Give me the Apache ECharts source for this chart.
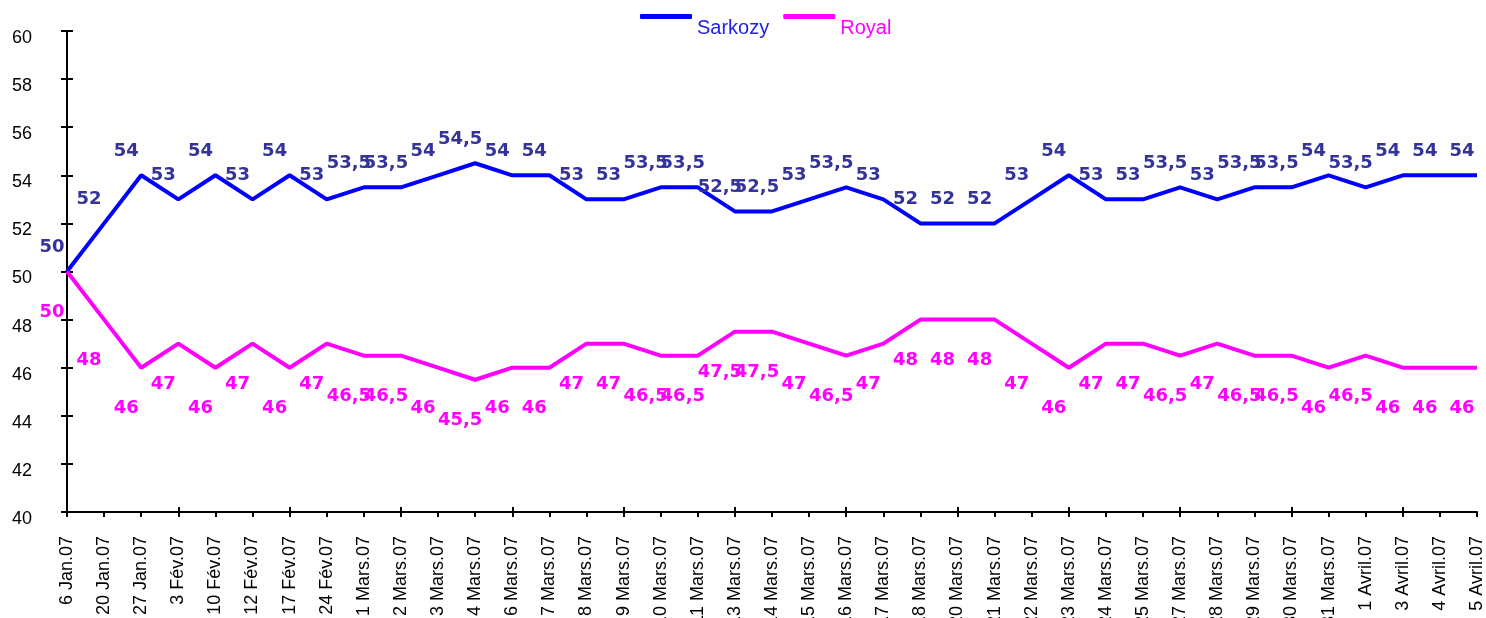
<!DOCTYPE html>
<html>
<head>
<meta charset="utf-8">
<script src="https://cdn.jsdelivr.net/npm/echarts@6/dist/echarts.min.js"></script>
<style>
  html, body { margin: 0; padding: 0; background: #fff; }
  #chart { width: 1486px; height: 618px; }
</style>
</head>
<body>
<div id="chart"></div>
<script>
const dates = [
  '6 Jan.07', '20 Jan.07', '27 Jan.07', '3 Fév.07', '10 Fév.07', '12 Fév.07', '17 Fév.07', '24 Fév.07',
  '1 Mars.07', '2 Mars.07', '3 Mars.07', '4 Mars.07', '6 Mars.07', '7 Mars.07', '8 Mars.07', '9 Mars.07',
  '10 Mars.07', '11 Mars.07', '13 Mars.07', '14 Mars.07', '15 Mars.07', '16 Mars.07', '17 Mars.07', '18 Mars.07',
  '20 Mars.07', '21 Mars.07', '22 Mars.07', '23 Mars.07', '24 Mars.07', '25 Mars.07', '27 Mars.07', '28 Mars.07',
  '29 Mars.07', '30 Mars.07', '31 Mars.07', '1 Avril.07', '3 Avril.07', '4 Avril.07', '5 Avril.07'
]
const sarkozy = [50, 52, 54, 53, 54, 53, 54, 53, 53.5, 53.5, 54, 54.5, 54, 54, 53, 53, 53.5, 53.5, 52.5, 52.5,
  53, 53.5, 53, 52, 52, 52, 53, 54, 53, 53, 53.5, 53, 53.5, 53.5, 54, 53.5, 54, 54, 54]
const royal = [50, 48, 46, 47, 46, 47, 46, 47, 46.5, 46.5, 46, 45.5, 46, 46, 47, 47, 46.5, 46.5, 47.5, 47.5,
  47, 46.5, 47, 48, 48, 48, 47, 46, 47, 47, 46.5, 47, 46.5, 46.5, 46, 46.5, 46, 46, 46]
const yMin = 40, yMax = 60, yStep = 2

// valeurs affichées avec la virgule décimale
const commaFmt = p => String(p.value).replace('.', ',')

const chart = echarts.init(document.getElementById('chart'))

const axisLine = { show: true, lineStyle: { color: '#000', width: 2 } }
const tickStyle = { color: '#000', width: 2 }

chart.setOption({
  animation: false,
  grid: { left: 67, right: 9, top: 31, bottom: 106, outerBoundsMode: 'none', containLabel: false },
  legend: {
    top: 14,
    left: 640,
    padding: 0,
    icon: 'roundRect',
    itemWidth: 52,
    itemHeight: 5,
    itemGap: 14,
    formatter: '{t|{name}}',
    textStyle: {
      rich: { t: { fontFamily: 'Liberation Sans', fontSize: 20, padding: [23, 0, 0, 0] } }
    },
    data: [
      { name: 'Sarkozy', textStyle: { rich: { t: { color: '#2222e6' } } } },
      { name: 'Royal', textStyle: { rich: { t: { color: '#ff00ff' } } } }
    ]
  },
  xAxis: [
    {
      type: 'category',
      data: dates,
      boundaryGap: false,
      axisLine: axisLine,
      axisTick: { show: true, length: 5, lineStyle: tickStyle },
      axisLabel: {
        interval: 0, rotate: 90, margin: 24,
        color: '#000', fontFamily: 'Liberation Sans', fontSize: 18
      }
    },
    {
      type: 'category',
      data: dates,
      position: 'bottom',
      boundaryGap: false,
      axisLine: { show: false },
      axisTick: { show: true, inside: true, length: 5, lineStyle: tickStyle },
      axisLabel: { show: false }
    }
  ],
  yAxis: [
    {
      type: 'value',
      min: yMin, max: yMax, interval: yStep,
      splitLine: { show: false },
      axisLine: axisLine,
      axisTick: { show: true, length: 6, lineStyle: tickStyle },
      axisLabel: {
        margin: 35, align: 'right', verticalAlign: 'top', padding: [-2, 0, 0, 0],
        color: '#000', fontFamily: 'Liberation Sans', fontSize: 18
      }
    },
    {
      type: 'value',
      position: 'left',
      min: yMin, max: yMax, interval: yStep,
      splitLine: { show: false },
      axisLine: { show: false },
      axisTick: { show: true, inside: true, length: 6, lineStyle: tickStyle },
      axisLabel: { show: false }
    }
  ],
  series: [
    {
      name: 'Sarkozy',
      type: 'line',
      data: sarkozy,
      symbol: 'circle',
      symbolSize: 0,
      color: '#0000ff',
      lineStyle: { color: '#0000ff', width: 4 },
      label: {
        show: true,
        position: 'top',
        distance: 5,
        offset: [-15, -10],
        formatter: commaFmt,
        color: '#333399',
        fontFamily: 'DejaVu Sans',
        fontWeight: 'bold',
        fontSize: 18
      }
    },
    {
      name: 'Royal',
      type: 'line',
      data: royal,
      symbol: 'circle',
      symbolSize: 0,
      color: '#ff00ff',
      lineStyle: { color: '#ff00ff', width: 4 },
      label: {
        show: true,
        position: 'bottom',
        distance: 5,
        offset: [-15, 27],
        formatter: commaFmt,
        color: '#ff00ff',
        fontFamily: 'DejaVu Sans',
        fontWeight: 'bold',
        fontSize: 18
      }
    }
  ]
})
</script>
</body>
</html>
